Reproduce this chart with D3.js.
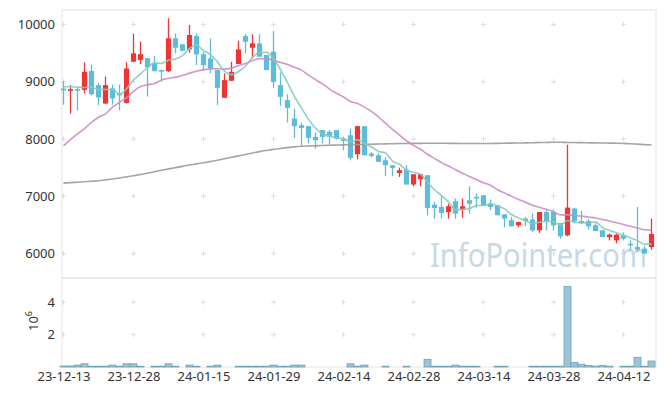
<!DOCTYPE html>
<html><head><meta charset="utf-8">
<script src="https://cdn.jsdelivr.net/npm/d3@7"></script>
<style>body{margin:0;background:#fff}svg{display:block}text{font-family:"Noto Sans",sans-serif}</style>
</head><body><svg id="c" width="665" height="396"></svg>
<script>
const dates=["23-12-13","23-12-14","23-12-15","23-12-18","23-12-19","23-12-20","23-12-21","23-12-22","23-12-26","23-12-27","23-12-28","24-01-02","24-01-03","24-01-04","24-01-05","24-01-08","24-01-09","24-01-10","24-01-11","24-01-12","24-01-15","24-01-16","24-01-17","24-01-18","24-01-19","24-01-22","24-01-23","24-01-24","24-01-25","24-01-26","24-01-29","24-01-30","24-01-31","24-02-01","24-02-02","24-02-05","24-02-06","24-02-07","24-02-08","24-02-13","24-02-14","24-02-15","24-02-16","24-02-19","24-02-20","24-02-21","24-02-22","24-02-23","24-02-26","24-02-27","24-02-28","24-02-29","24-03-04","24-03-05","24-03-06","24-03-07","24-03-08","24-03-11","24-03-12","24-03-13","24-03-14","24-03-15","24-03-18","24-03-19","24-03-20","24-03-21","24-03-22","24-03-25","24-03-26","24-03-27","24-03-28","24-03-29","24-04-01","24-04-02","24-04-03","24-04-04","24-04-05","24-04-08","24-04-09","24-04-11","24-04-12","24-04-15","24-04-16","24-04-17","24-04-18"];
const open=[8880,8840,8870,8858,9185,8940,8620,8883,8790,8630,9350,9380,9410,9320,9205,9185,9757,9652,9564,9797,9480,9407,9203,8719,9016,9308,9797,9593,9670,9465,9523,8941,8678,8358,8241,8224,8037,8154,8124,8154,7995,8066,7734,8224,7746,7716,7629,7542,7407,7467,7205,7297,7367,6853,6812,6725,6913,6768,6930,6988,7017,6872,6843,6685,6580,6493,6610,6593,6405,6725,6725,6533,6318,6785,6568,6568,6493,6405,6288,6230,6318,6170,6113,6085,6113];
const high=[9010,8940,8900,9340,9300,8980,9090,8950,8950,9340,9840,9700,9410,9450,9210,10107,9844,9660,9990,9844,9520,9757,9203,9145,9348,9715,9832,9827,9827,9465,9884,9162,8778,8532,8288,8224,8113,8154,8154,8154,8037,8183,8224,8224,7770,7750,7680,7542,7500,7540,7384,7384,7367,6900,7000,6870,6960,6960,7173,7050,7017,6943,6843,6685,6640,6550,6640,6698,6725,6770,6770,6533,7900,6800,6745,6600,6530,6405,6350,6350,6370,6230,6812,6130,6610];
const low=[8600,8440,8500,8795,8760,8590,8610,8600,8500,8620,9340,9310,8740,9180,9000,9170,9495,9530,9505,9290,9200,9145,8591,8719,9016,9308,9495,9407,9436,9203,8893,8579,8288,8019,7874,7920,7833,7920,7902,7990,7804,7627,7646,7716,7680,7600,7350,7350,7338,7205,7175,7175,6668,6610,6610,6610,6610,6625,6698,6800,6843,6756,6668,6457,6476,6460,6476,6376,6360,6405,6400,6260,6300,6530,6510,6420,6394,6288,6230,6180,6230,6056,6033,6000,6068];
const close=[8850,8870,8850,9173,8783,8725,8940,8708,8770,9230,9495,9480,9250,9185,9195,9757,9593,9540,9815,9477,9290,9233,8893,9028,9173,9564,9698,9670,9436,9203,8998,8736,8544,8224,8194,8019,7979,8037,8037,8008,7985,7670,8224,7716,7705,7600,7542,7495,7455,7205,7384,7384,6795,6795,6708,6825,6698,6825,6870,6960,6843,6812,6668,6610,6476,6550,6568,6405,6725,6568,6493,6300,6802,6568,6530,6476,6394,6288,6330,6330,6260,6150,6068,6000,6341];
const volume=[0.06,0.06,0.12,0.2,0.05,0.05,0.05,0.12,0.05,0.2,0.2,0.05,0,0.05,0.05,0.2,0.05,0,0.12,0.05,0,0.05,0.12,0,0,0.05,0.05,0.05,0.05,0.05,0.12,0.05,0.05,0.12,0.12,0,0,0,0,0,0,0.2,0.05,0.12,0,0,0.05,0,0,0.05,0,0,0.47,0.05,0.05,0.05,0.12,0.05,0.05,0.05,0,0,0.05,0.05,0,0,0,0.05,0.05,0.05,0.05,0.05,4.97,0.29,0.17,0.1,0.05,0.1,0.05,0,0.05,0.05,0.6,0.05,0.37];
const ma5=[8911,8911,8905,8900,8905,8863,8864,8866,8785,8875,9029,9137,9245,9328,9321,9373,9396,9454,9580,9636,9543,9471,9342,9184,9123,9178,9271,9427,9508,9514,9401,9209,8983,8741,8539,8343,8192,8091,8053,8016,8009,7947,7985,7921,7860,7783,7757,7612,7559,7459,7416,7385,7245,7113,7013,6901,6764,6770,6785,6836,6839,6862,6831,6779,6682,6623,6574,6522,6545,6563,6552,6498,6578,6546,6539,6535,6554,6451,6404,6364,6320,6272,6228,6162,6164];
const ma20=[7880,7990,8090,8180,8290,8380,8440,8555,8640,8720,8830,8915,8945,8970,9030,9060,9080,9110,9150,9184,9206,9224,9227,9219,9239,9281,9319,9367,9400,9399,9374,9337,9301,9253,9203,9116,9036,8961,8872,8798,8733,8655,8621,8556,8482,8384,8276,8168,8069,7969,7888,7820,7733,7661,7587,7527,7463,7403,7344,7292,7235,7192,7114,7059,6998,6945,6896,6842,6805,6773,6729,6675,6675,6664,6655,6637,6622,6595,6568,6537,6508,6475,6445,6414,6407];
const ma120=[7230,7238,7246,7254,7262,7270,7285,7300,7318,7338,7358,7380,7403,7428,7455,7478,7500,7522,7545,7565,7585,7607,7630,7655,7680,7705,7730,7755,7780,7800,7818,7835,7850,7862,7872,7878,7883,7887,7891,7894,7897,7900,7903,7906,7909,7912,7915,7918,7920,7922,7923,7924,7925,7925,7925,7924,7923,7922,7921,7921,7921,7922,7924,7926,7928,7930,7932,7935,7938,7940,7942,7942,7940,7938,7936,7934,7932,7930,7928,7926,7924,7918,7910,7902,7895];
const priceTicks=[6000,7000,8000,9000,10000];
const volTicks=[2,4];
const xTickLabels=["23-12-13","23-12-28","24-01-15","24-01-29","24-02-14","24-02-28","24-03-14","24-03-28","24-04-12"];

const svg=d3.select("#c");
const L=62,R=656,T=10,M=278,B=367;
const x=d3.scalePoint().domain(dates).range([63.5,651.5]);
const y=d3.scaleLinear().domain([5573,10252]).range([M,T]);
const yv=d3.scaleLinear().domain([0,5.5]).range([B,M]);
const RED="#ef3434",BLUE="#5dbcd7";

// panels
svg.append("rect").attr("x",L).attr("y",T).attr("width",R-L).attr("height",M-T).attr("fill","none").attr("stroke","#e4e4e4");
svg.append("rect").attr("x",L).attr("y",M).attr("width",R-L).attr("height",B-M).attr("fill","none").attr("stroke","#e4e4e4");

// grid crosses
const crossG=svg.append("g").attr("stroke","#dedede").attr("stroke-width",1);
function cross(cx,cy){crossG.append("path").attr("d",`M${cx-2.5},${cy}H${cx+2.5}M${cx},${cy-2.5}V${cy+2.5}`);}
xTickLabels.forEach(d=>{priceTicks.forEach(p=>cross(x(d),y(p)));volTicks.forEach(v=>cross(x(d),yv(v)));});

// watermark
svg.append("text").attr("x",430).attr("y",267).attr("textLength",217).attr("lengthAdjust","spacingAndGlyphs")
 .attr("font-family","Liberation Sans, Arial, sans-serif").attr("font-size",32).attr("fill","#c6d9e4").text("InfoPointer.com");

// axes
const ya=svg.append("g").attr("transform",`translate(${L},0)`).call(d3.axisLeft(y).tickValues(priceTicks).tickSize(0).tickPadding(7).tickFormat(d3.format("d")));
const yva=svg.append("g").attr("transform",`translate(${L},0)`).call(d3.axisLeft(yv).tickValues(volTicks).tickSize(0).tickPadding(7).tickFormat(d3.format("d")));
const xa=svg.append("g").attr("transform",`translate(0,${B})`).call(d3.axisBottom(x).tickValues(xTickLabels).tickSize(0).tickPadding(5));
[ya,yva,xa].forEach(g=>{g.select(".domain").remove();g.selectAll("text").attr("font-size",13).attr("fill","#333").attr("font-family","Noto Sans, sans-serif");});
const ex=svg.append("text").attr("transform","translate(37.5,321) rotate(-90)").attr("text-anchor","middle").attr("font-size",13).attr("fill","#333");
ex.append("tspan").text("10");
ex.append("tspan").attr("font-size",9).attr("dy",-6).text("6");

// volume bars
svg.append("g").selectAll("rect").data(dates.map((d,i)=>({d,v:volume[i]})).filter(o=>o.v>0)).join("rect")
 .attr("x",o=>x(o.d)-3.5).attr("width",7).attr("y",o=>yv(o.v)).attr("height",o=>Math.max(0.6,B-yv(o.v)))
 .attr("fill","#9bc4d4").attr("stroke","#6fa3b7").attr("stroke-width",0.8);

// candles
const cd=dates.map((d,i)=>({d,o:open[i],h:high[i],l:low[i],c:close[i]}));
const cg=svg.append("g");
cg.selectAll("line").data(cd).join("line").attr("x1",o=>x(o.d)).attr("x2",o=>x(o.d))
 .attr("y1",o=>y(o.h)).attr("y2",o=>y(o.l)).attr("stroke",o=>o.c>=o.o?RED:BLUE).attr("stroke-width",1.3);
cg.selectAll("rect").data(cd).join("rect").attr("x",o=>x(o.d)-2.6).attr("width",5.2)
 .attr("y",o=>y(Math.max(o.o,o.c))).attr("height",o=>Math.max(1.6,Math.abs(y(o.o)-y(o.c))))
 .attr("fill",o=>o.c>=o.o?RED:BLUE);

// moving averages
function ma(arr,color){
 const line=d3.line().x((v,i)=>x(dates[i])).y(v=>y(v)).curve(d3.curveMonotoneX);
 svg.append("path").attr("d",line(arr)).attr("fill","none").attr("stroke",color).attr("stroke-width",1.6).attr("stroke-opacity",0.9);
}
ma(ma120,"#9b9b9b");
ma(ma20,"#cc8bc6");
ma(ma5,"#86cbbd");
</script></body></html>
